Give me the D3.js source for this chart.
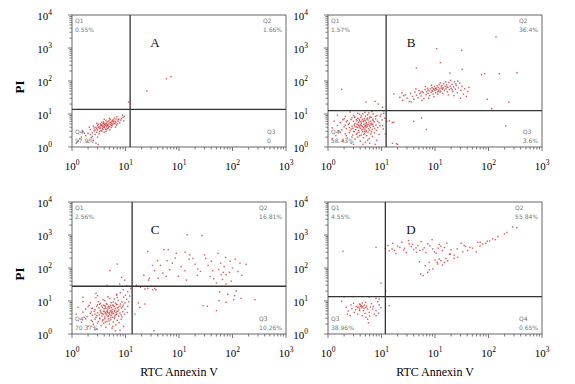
<!DOCTYPE html>
<html>
<head>
<meta charset="utf-8">
<script src="https://cdn.jsdelivr.net/npm/d3@7"></script>
<style>
  body { margin: 0; background: #fff; }
  svg { display: block; }
</style>
</head>
<body>
<svg id="chart" width="575" height="384"></svg>
<script>
// panel letters, tick labels (the x axis really repeats 10^1 in the source)
const panelIds = ["A", "B", "C", "D"];
const xTickExps = ["0", "1", "1", "2", "3"];
const yTickExps = ["0", "1", "2", "3", "4"];
const xTitle = "RTC Annexin V";
const yTitle = "PI";

// gate positions (data units)
const gateX = [12.2, 12.2, 13.3, 11.8];
const gateY = [13.8, 12.6, 28, 13.5];

// quadrant names + percentages: top-left, top-right, bottom-left, bottom-right
const quadNames = [
  ["Q1", "Q2", "Q4", "Q3"],
  ["Q1", "Q2", "Q4", "Q3"],
  ["Q1", "Q2", "Q4", "Q3"],
  ["Q1", "Q2", "Q3", "Q4"]
];
const quadPcts = [
  ["0.55%", "1.66%", "97.9%", "0"],
  ["1.57%", "36.4%", "58.43%", "3.6%"],
  ["2.56%", "16.81%", "70.37%", "10.26%"],
  ["4.55%", "55.84%", "38.96%", "0.65%"]
];

// events [annexin, PI]
const pointsA = [
  [3.2,4.1],[3.8,4.6],[4.4,5.0],[2.9,3.6],[5.1,5.4],[3.5,3.2],[4.0,3.9],[4.7,4.4],[3.1,4.9],[5.6,6.0],
  [2.6,3.1],[3.9,5.3],[4.2,3.5],[6.3,5.1],[3.4,4.4],[2.8,4.0],[4.9,6.2],[5.3,4.7],[3.7,3.7],[4.5,5.7],
  [2.4,2.7],[6.0,6.6],[3.3,2.9],[4.1,4.3],[5.8,4.9],[3.6,5.6],[2.2,3.4],[4.8,3.8],[7.2,6.1],[3.0,3.3],
  [4.3,6.4],[5.5,5.2],[2.7,2.4],[6.6,5.6],[3.9,4.0],[4.6,4.8],[2.0,2.6],[5.0,4.2],[3.4,5.0],[7.5,7.0],
  [4.0,2.8],[2.5,4.3],[6.8,4.6],[3.1,3.9],[5.2,6.8],[1.8,2.2],[4.4,4.1],[3.6,4.5],[8.1,6.5],[2.3,1.9],
  [5.9,5.8],[3.8,3.4],[4.9,5.0],[2.9,5.2],[6.2,7.5],[1.6,3.0],[4.2,5.2],[3.2,2.5],[7.8,5.4],[5.4,3.9],
  [2.6,3.8],[4.7,5.9],[3.5,4.7],[9.0,7.9],[1.4,1.8],[6.5,4.0],[3.0,2.0],[4.0,6.9],[5.7,6.5],[2.1,4.0],
  [8.8,9.2],[3.3,3.6],[4.5,4.5],[2.5,1.6],[6.9,8.3],[1.3,1.5],[5.1,3.3],[3.7,4.2],[9.3,6.2],[2.8,1.3],
  [4.3,3.0],[7.0,5.0],[3.9,5.8],[2.0,1.4],[5.6,4.4],[1.7,2.6],[6.1,5.3],[3.0,4.5],[4.8,4.0],[8.4,7.3],
  [2.4,2.1],[5.3,5.6],[3.6,3.0],[4.6,3.6],[2.9,2.8],[7.3,6.7],[1.5,2.0],[6.4,6.1],[3.4,3.8],[4.1,4.8],
  [9.5,8.6],[2.2,2.4],[5.0,7.3],[3.8,5.1],[4.4,3.4],[2.7,3.3],[6.7,7.0],[1.2,1.3],[5.5,4.6],[3.1,1.2],
  [4.2,4.6],[25,50],[58,117],[71,135],[11.4,23]
];

const pointsB = [
  [2.1,8.4],[3.0,9.1],[3.6,10.5],[4.2,8.8],[4.9,11.2],[5.5,9.5],[6.1,8.2],[7.0,10.0],[2.6,11.5],[8.2,9.0],
  [5.0,8.6],[3.9,9.8],[9.5,8.5],[6.6,11.8],[1.5,9.2],[4.5,10.1],[11.0,10.5],[7.7,8.4],[3.2,8.1],[5.8,10.8],
  [1.3,6.1],[1.7,5.5],[2.0,7.2],[2.3,6.3],[2.5,5.3],[2.8,7.6],[3.0,6.0],[3.2,5.1],[3.4,6.8],[3.6,7.4],
  [3.7,5.6],[3.9,6.4],[4.1,7.8],[4.2,5.2],[4.4,6.9],[4.6,5.9],[4.8,7.3],[5.0,6.2],[5.2,5.4],[5.3,7.0],
  [5.6,6.6],[5.8,5.7],[6.0,7.6],[6.3,6.1],[6.6,5.3],[6.9,6.9],[7.3,5.8],[7.8,7.1],[8.4,6.0],[9.0,5.5],
  [10.2,6.6],[3.1,7.9],[2.2,5.8],[4.0,5.8],[4.7,6.5],[5.5,7.5],[6.4,7.9],[3.5,6.2],[2.7,6.8],[5.1,5.0],
  [7.0,6.3],[3.8,7.0],[1.9,6.7],[4.3,6.1],[6.1,5.1],
  [1.2,3.8],[1.5,4.5],[1.8,3.3],[2.0,4.1],[2.2,3.6],[2.4,4.8],[2.6,3.1],[2.8,4.3],[2.9,3.7],[3.1,4.6],
  [3.3,3.4],[3.4,4.0],[3.5,4.9],[3.7,3.2],[3.8,4.4],[4.0,3.7],[4.1,4.7],[4.3,3.3],[4.4,4.2],[4.6,3.9],
  [4.7,4.9],[4.9,3.5],[5.0,4.4],[5.2,3.1],[5.4,4.1],[5.6,4.8],[5.7,3.6],[5.9,4.4],[6.2,3.9],[6.4,4.7],
  [6.7,3.4],[7.0,4.2],[7.4,3.7],[7.9,4.6],[8.5,3.9],[9.4,4.4],[10.8,3.5],[3.0,3.0],[3.6,3.9],[4.2,4.5],
  [4.8,3.0],[5.3,4.6],[3.2,4.2],[2.5,3.9],[6.0,3.2],[4.5,3.5],[3.9,4.1],[5.1,4.0],[2.1,4.6],[6.8,4.8],
  [1.6,3.1],[8.0,3.2],[3.7,4.7],[4.9,4.3],[2.7,3.5],
  [1.4,2.2],[1.7,2.8],[1.9,1.6],[2.1,2.5],[2.3,1.9],[2.5,2.7],[2.7,1.3],[2.9,2.3],[3.1,2.9],[3.2,1.7],
  [3.4,2.4],[3.6,2.0],[3.8,2.8],[4.0,1.5],[4.2,2.3],[4.4,2.9],[4.6,1.9],[4.8,2.6],[5.0,1.4],[5.3,2.2],
  [5.6,2.8],[5.9,1.8],[6.3,2.5],[6.8,2.1],[7.4,2.7],[8.1,1.6],[9.0,2.4],[3.0,1.2],[4.5,1.2],[6.0,1.3],
  [2.2,2.2],[3.5,2.6],[4.7,2.4],[5.5,1.6],[7.6,1.2],[2.8,2.0],[3.9,2.2],[5.1,2.9],[1.2,1.8],[6.5,2.9],
  [11.5,7.5],[12.5,6.0],[14,6.2],[16,5.5],[10.5,4.5],[11.8,2.5],[9.8,9.8],[11,12.5],
  [1.8,56],[5.1,23],[7.6,24],[8.7,20],[10.5,16],
  [17,5.7],[40,6],[56,7.6],[69,3.4],[2100,4.3],[16,1.3],[20,1.2],[19,1.25],
  [1380,2150],[316,850],[107,955],[126,360],[45,246],[191,174],[323,224],[740,155],[850,166],[1600,166],
  [3400,178],[950,28],[2400,23],[1150,14.5],[17,41],
  [22,32],[25,26],[28,38],[30,30],[33,24],[35,42],[38,34],[40,28],[42,46],[45,37],
  [48,31],[50,52],[52,41],[55,35],[58,48],[60,44],[62,29],[65,55],[68,39],[70,47],
  [72,60],[75,42],[78,51],[80,36],[82,58],[85,45],[88,63],[90,49],[92,40],[95,56],
  [98,68],[100,52],[103,44],[105,61],[108,55],[110,72],[113,47],[115,64],[118,53],[120,78],
  [124,58],[128,49],[130,66],[134,74],[138,56],[142,62],[146,83],[150,52],[155,69],[160,58],
  [165,76],[170,47],[175,64],[180,90],[186,55],[192,70],[200,60],[208,80],[215,48],[222,66],
  [230,95],[240,57],[250,73],[262,44],[275,62],[290,86],[305,52],[320,70],[340,40],[360,58],
  [385,34],[410,48],[24,44],[36,23],[44,58],[57,26],[66,68],[76,30],[86,74],[96,33],
  [112,40],[126,88],[140,42],[158,95],[178,38],[196,105],[225,36],[265,100],[300,30],[26,36],
  [54,46],[74,54],[94,59],[116,50],[136,60],[168,66],[210,54],[245,82],[430,64],[88,52],
  [102,58],[124,46]
];

const pointsC = [
  [2.2,8.8],[3.1,9.6],[3.8,11.0],[4.4,8.3],[5.1,12.0],[5.9,9.3],[6.5,8.6],[7.3,10.4],[2.8,12.5],[8.6,9.4],
  [5.4,8.9],[4.1,10.2],[9.8,8.7],[7.0,12.8],[1.6,9.5],[4.7,13.5],[10.5,11.2],[8.0,8.1],[3.4,8.5],[6.2,11.5],
  [11.5,9.5],[12,14],[9.2,13],[6.8,15],[3.0,14.5],
  [7,132],[5.1,83],[8.5,52],[9.7,43],[4.5,30],[7.8,33],[10.5,29],
  [2.8,17],[1.6,13],[6.8,16],[9.1,22],[11,19],[12.5,24],[8,18],[10,15],
  [1.3,6.4],[1.8,5.7],[2.1,7.4],[2.4,6.0],[2.7,5.4],[3.0,7.7],[3.2,6.2],[3.4,5.2],[3.6,7.1],[3.9,7.5],
  [4.0,5.8],[4.2,6.6],[4.5,7.9],[4.6,5.3],[4.8,7.0],[5.0,6.0],[5.3,7.4],[5.5,6.3],[5.7,5.5],[5.9,7.2],
  [6.2,6.8],[6.5,5.9],[6.8,7.8],[7.1,6.2],[7.5,5.4],[7.9,7.0],[8.4,6.1],[9.1,7.5],[9.8,5.6],[11.0,6.8],
  [3.3,7.9],[2.3,5.9],[4.3,6.0],[5.1,6.7],[5.8,7.6],[6.9,7.9],[3.7,6.3],[2.9,6.9],[5.4,5.1],[7.4,6.5],
  [4.1,7.2],[2.0,6.8],[4.7,6.2],[6.3,5.2],[8.8,6.7],
  [1.2,4.0],[1.6,4.6],[1.9,3.4],[2.2,4.2],[2.4,3.7],[2.6,4.9],[2.8,3.2],[3.0,4.4],[3.2,3.8],[3.4,4.7],
  [3.6,3.5],[3.7,4.1],[3.9,4.9],[4.1,3.3],[4.2,4.5],[4.4,3.8],[4.5,4.8],[4.7,3.4],[4.9,4.3],[5.1,3.9],
  [5.2,4.9],[5.4,3.6],[5.5,4.5],[5.8,3.2],[6.0,4.2],[6.2,4.9],[6.4,3.7],[6.6,4.5],[6.9,4.0],[7.2,4.8],
  [7.5,3.5],[7.9,4.3],[8.3,3.8],[8.9,4.7],[9.6,4.0],[10.8,4.5],[3.3,3.0],[3.9,4.0],[4.6,4.6],[5.3,3.1],
  [5.7,4.7],[3.5,4.3],[2.7,4.0],[6.3,3.3],[4.8,3.6],[4.3,4.2],[5.6,4.1],[2.3,4.7],[7.0,4.9],[1.7,3.2],
  [8.6,3.3],[4.0,4.8],[5.0,4.4],[2.9,3.6],[6.7,3.9],
  [1.5,2.3],[1.8,2.9],[2.0,1.7],[2.3,2.6],[2.5,2.0],[2.7,2.8],[2.9,1.4],[3.1,2.4],[3.3,2.9],[3.5,1.8],
  [3.7,2.5],[3.9,2.1],[4.1,2.9],[4.3,1.6],[4.5,2.4],[4.8,2.9],[5.0,2.0],[5.3,2.7],[5.6,1.5],[5.9,2.3],
  [6.2,2.9],[6.6,1.9],[7.0,2.6],[7.6,2.2],[8.3,2.8],[9.2,1.7],[2.7,1.35],[6.5,1.25],[3.8,2.7],[4.9,2.5],
  [5.8,1.7],[2.4,2.4],[7.9,1.3],[3.0,2.1],[4.2,2.3],
  [141,1020],[270,955],[26,316],[52,360],[63,360],[89,278],[40,166],[60,166],[155,186],[182,195],
  [316,195],[537,278],[741,209],[1122,186],[1380,141],[876,74],[676,74],[427,83],[224,93],[251,79],
  [129,83],[98,56],[138,43],[58,56],[35,83],[27,43],[28,49],[67,89],[41,49],[447,47],
  [617,63],[759,63],[759,33],[1259,78],[501,35],
  [16,30],[19,26],[23,23],[26,24],[30,28],[35,24],[37,22],[32,22],
  [575,19],[813,16],[1096,14.5],[1445,12],[1175,20],[282,7.2],[339,6.9],[501,5.1],[2630,11],[562,10.2],
  [759,9.1],[1050,11],[18.5,6.4],[15,4],[17.3,8.7],[34,1.26],[23,8.1],
  [45,120],[75,140],[110,110],[160,250],[200,130],[300,250],[350,120],[400,160],[600,140],[700,110],
  [900,160],[1000,100],[85,200],[130,300],[220,60],[380,55],[550,90],[650,45],[950,40],[1500,60],
  [50,70],[32,120],[22,60],[1800,130]
];

const pointsD = [
  [11.8,398],[13.2,479],[16.2,562],[17.4,339],[18.6,275],[15.8,380],[20,457],[24,603],[27,398],[29,295],
  [33,537],[32,676],[36,447],[40,363],[44,407],[55,631],[59,363],[68,295],[73,537],[88,724],
  [91,380],[98,309],[105,282],[129,457],[138,339],[166,562],[186,263],[229,195],[309,562],[331,309],
  [372,447],[407,339],[501,398],[589,309],[631,603],[692,457],[776,537],[891,562],[1047,660],[1202,760],
  [1349,724],[1995,1072],[2818,1738],[3388,1660],
  [22,420],[26,350],[38,520],[48,480],[52,340],[63,410],[80,470],[115,400],[150,420],[200,360],
  [260,380],[350,480],[450,420],[700,600],[950,650],[1500,900],[2200,1200],[14,330],[45,300],[120,520],
  [51,155],[66,117],[54,66],[60,59],[73,74],[78,89],[91,93],[112,132],[129,166],[149,148],
  [120,186],[161,195],[194,263],[138,123],[229,245],[265,209],[78,148],[100,174],[110,148],[173,166],
  [1.9,323],[7.9,425],[9.8,35],[12,20],[14,7.2],
  [2.0,13.3],[2.9,13.6],[5.9,13.2],[7.9,12],[9.1,11.5],[2.2,6.4],[2.7,7.6],[3.4,6.9],[3.9,8.1],[4.1,6.9],
  [4.4,8.7],[4.8,7.6],[5.0,9.1],[5.5,5.7],[3.9,5.7],[3.1,4.5],[2.3,4.0],[2.6,3.6],[3.6,4.0],[4.4,3.6],
  [5.1,3.2],[5.9,4.5],[6.8,5.7],[7.9,5.1],[7.3,4.0],[9.1,7.6],[9.8,6.3],[7.9,3.6],[5.5,2.8],[5.7,2.2],
  [3.9,5.1],[4.3,6.3],[4.6,5.1],[5.1,6.3],[3.6,6.3],
  [4.2,7.2],[4.5,6.8],[4.0,7.8],[3.8,6.6],[4.7,6.0],[5.3,7.0],[6.2,6.6],[3.3,5.4],[2.8,5.9],[6.5,8.3],
  [7.0,6.8],[8.5,9.5],[3.0,8.5],[6.0,3.5],[4.9,4.2],[2.4,5.0],[8.8,4.3],[1.8,9.8]
];

const panelPoints = [pointsA, pointsB, pointsC, pointsD];

// layout
const W = 214, H = 132;
const origins = [[72, 15], [328, 15], [72, 202], [328, 202]];
const serif = "'Liberation Serif', 'Times New Roman', serif";

const svg = d3.select("#chart");

const x = d3.scaleLog().domain([1, 1e4]).range([0, W]);
const y = d3.scaleLog().domain([1, 1e4]).range([H, 0]);
const minorTicks = x.ticks();
const decades = [1, 10, 100, 1000, 10000];

/** "10" with a superscript exponent */
function powLabel(sel, exp) {
  sel.append("tspan").text("10");
  sel.append("tspan").attr("dy", -5).attr("font-size", 7.5).text(exp);
}

panelIds.forEach((id, i) => {
  const [ox, oy] = origins[i];
  const g = svg.append("g").attr("transform", `translate(${ox},${oy})`);

  // ticks along bottom and left
  g.append("g").selectAll("line").data(minorTicks).join("line")
    .attr("x1", d => x(d)).attr("x2", d => x(d))
    .attr("y1", H).attr("y2", d => H + (decades.includes(d) ? 4 : 2.5))
    .attr("stroke", "#555").attr("stroke-width", 0.8);
  g.append("g").selectAll("line").data(minorTicks).join("line")
    .attr("y1", d => y(d)).attr("y2", d => y(d))
    .attr("x1", 0).attr("x2", d => -(decades.includes(d) ? 4 : 2.5))
    .attr("stroke", "#555").attr("stroke-width", 0.8);

  // events
  g.append("g").selectAll("rect").data(panelPoints[i]).join("rect")
    .attr("x", d => x(d[0]) - 0.7)
    .attr("y", d => y(d[1]) - 0.7)
    .attr("width", 1.4).attr("height", 1.4)
    .attr("fill", "#d23c3c").attr("opacity", 0.85);

  // frame
  g.append("rect").attr("width", W).attr("height", H)
    .attr("fill", "none").attr("stroke", "#666").attr("stroke-width", 1);

  // gates
  g.append("line").attr("x1", x(gateX[i])).attr("x2", x(gateX[i]))
    .attr("y1", 0).attr("y2", H).attr("stroke", "#333").attr("stroke-width", 1.3);
  g.append("line").attr("y1", y(gateY[i])).attr("y2", y(gateY[i]))
    .attr("x1", 0).attr("x2", W).attr("stroke", "#333").attr("stroke-width", 1.3);

  // tick labels
  decades.forEach((d, k) => {
    g.append("text").attr("x", x(d)).attr("y", H + 23)
      .attr("text-anchor", "middle").attr("font-family", serif).attr("font-size", 11)
      .call(powLabel, xTickExps[k]);
    g.append("text").attr("x", -20).attr("y", y(d) + 5)
      .attr("text-anchor", "end").attr("font-family", serif).attr("font-size", 11)
      .call(powLabel, yTickExps[k]);
  });

  // panel letter
  g.append("text").attr("x", 83).attr("y", 32)
    .attr("text-anchor", "middle").attr("font-family", serif).attr("font-size", 13)
    .attr("fill", "#111").text(id);

  // quadrant labels
  const qs = { "font-family": "'DejaVu Sans', sans-serif", "font-size": 6, fill: "#777" };
  const addQ = (tx, ty, name, pct, right) => {
    const t2 = g.append("text").attr("y", ty + 8.5).text(pct);
    Object.entries(qs).forEach(([k, v]) => t2.attr(k, v));
    let lx = tx;
    if (right) {
      const w = Math.max(t2.node().getComputedTextLength(), 15);
      lx = W - 4 - w;
    }
    t2.attr("x", lx);
    const t1 = g.append("text").attr("x", lx).attr("y", ty).text(name);
    Object.entries(qs).forEach(([k, v]) => t1.attr(k, v));
  };
  addQ(3, 8, quadNames[i][0], quadPcts[i][0], false);
  addQ(0, 8, quadNames[i][1], quadPcts[i][1], true);
  addQ(3, H - 13, quadNames[i][2], quadPcts[i][2], false);
  addQ(0, H - 13, quadNames[i][3], quadPcts[i][3], true);

  // axis titles
  if (i % 2 === 0) {
    svg.append("text")
      .attr("transform", `translate(${ox - 48},${oy + H / 2 + 6}) rotate(-90)`)
      .attr("text-anchor", "middle").attr("font-family", serif)
      .attr("font-size", 13).attr("font-weight", "bold").text(yTitle);
  }
  if (i >= 2) {
    svg.append("text").attr("x", ox + W / 2).attr("y", oy + H + 42)
      .attr("text-anchor", "middle").attr("font-family", serif)
      .attr("font-size", 12).text(xTitle);
  }
});
</script>
</body>
</html>
